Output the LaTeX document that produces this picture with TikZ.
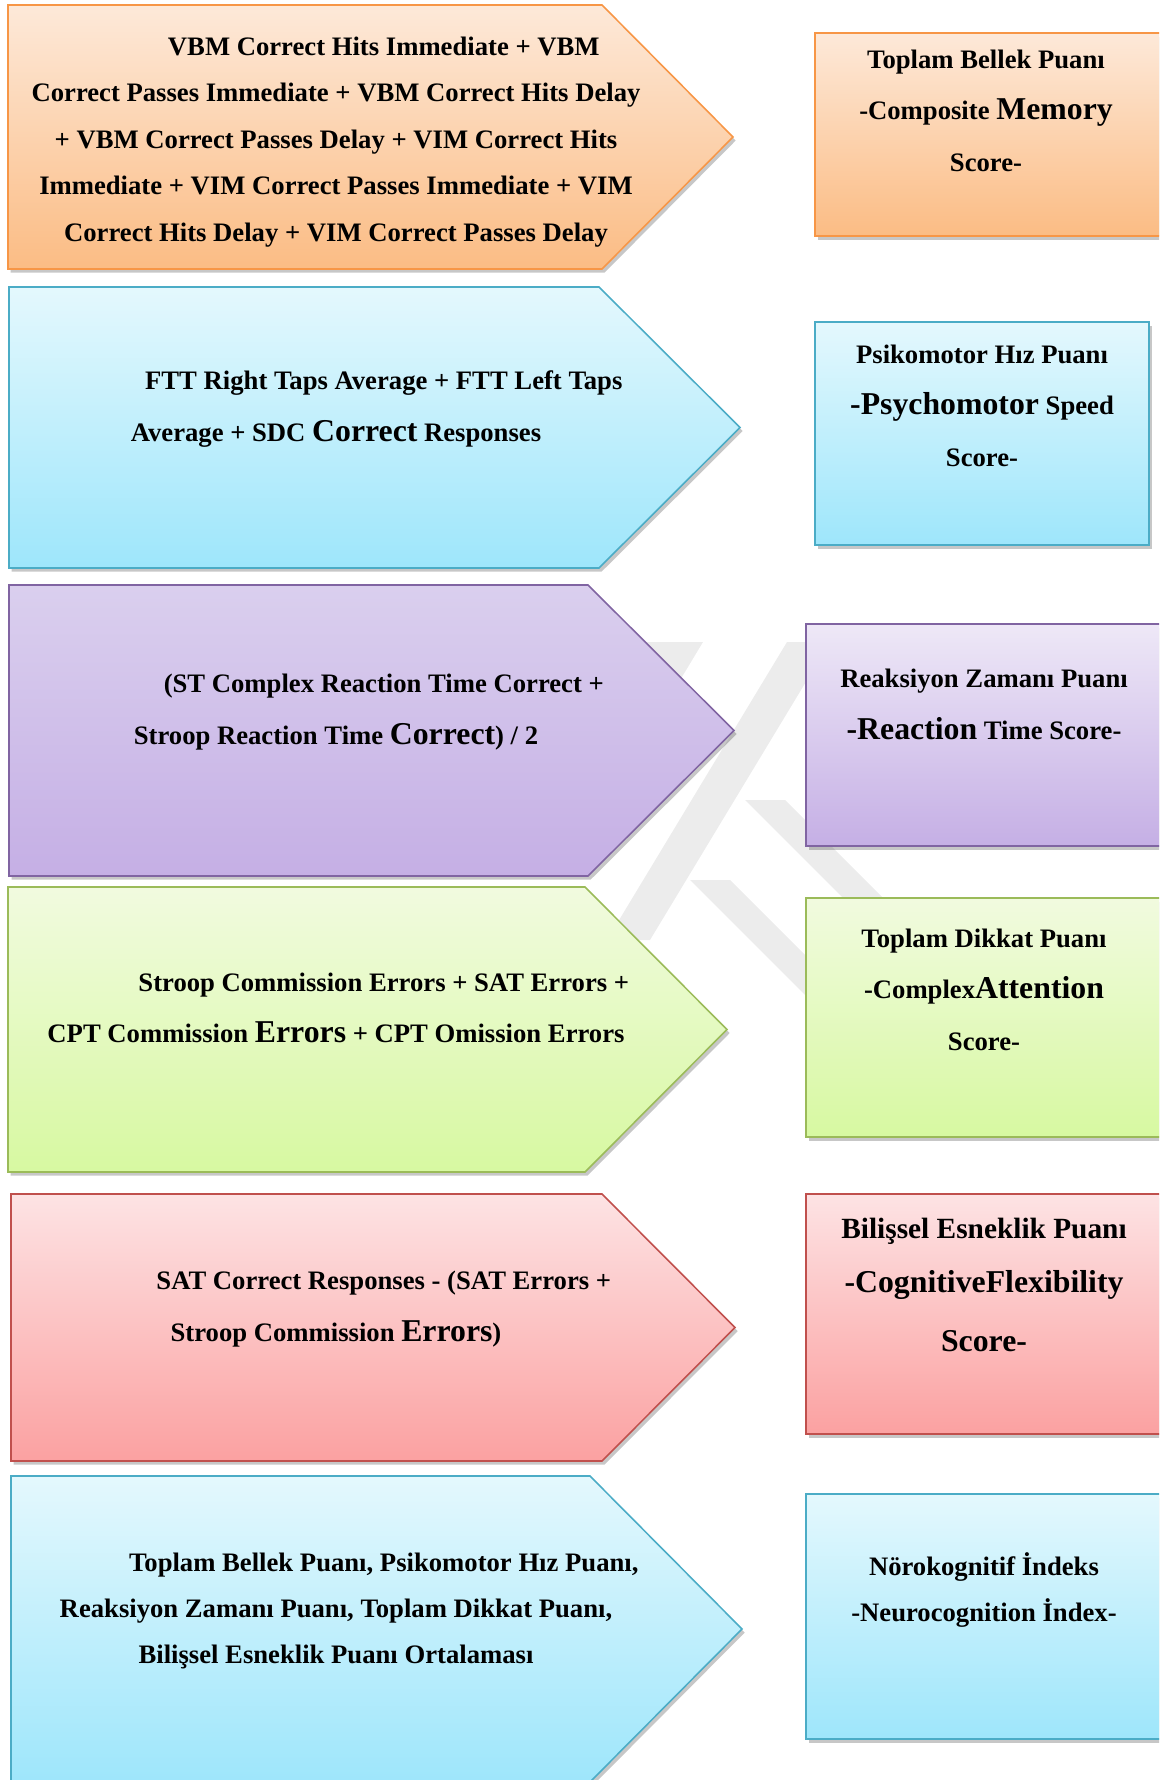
\documentclass[tikz,border=0pt]{standalone}
\usepackage{fontspec}
\setmainfont{Liberation Serif}
\usetikzlibrary{shadows}

\definecolor{orangeline}{HTML}{F79646}
\definecolor{orangetop}{HTML}{FDE9D9}
\definecolor{orangebot}{HTML}{FBBC84}
\definecolor{blueline}{HTML}{4BACC6}
\definecolor{bluetop}{HTML}{E4F8FD}
\definecolor{bluebot}{HTML}{9EE6FB}
\definecolor{purpleline}{HTML}{8064A2}
\definecolor{purpletop}{HTML}{DACFEE}
\definecolor{purplepale}{HTML}{EEE8F7}
\definecolor{purplebot}{HTML}{C5AFE5}
\definecolor{greenline}{HTML}{9BBB59}
\definecolor{greentop}{HTML}{F1FADF}
\definecolor{greenbot}{HTML}{D7F9A1}
\definecolor{redline}{HTML}{C0504D}
\definecolor{redtop}{HTML}{FDE3E4}
\definecolor{redbot}{HTML}{FBA1A1}
\definecolor{logogrey}{HTML}{ECECEC}

\newcommand{\bigword}[1]{{\fontsize{14.3}{20.9}\selectfont #1}}

\begin{document}
\begin{tikzpicture}[x=0.45pt, y=-0.45pt,
    card/.style = {line width=0.7pt, drop shadow={shadow xshift=1.2pt, shadow yshift=-1.6pt, opacity=0.22, fill=black}},
    orangecard/.style = {card, draw=orangeline, top color=orangetop, bottom color=orangebot},
    bluecard/.style = {card, draw=blueline, top color=bluetop, bottom color=bluebot},
    purplecard/.style = {card, draw=purpleline, top color=purpletop, bottom color=purplebot},
    greencard/.style = {card, draw=greenline, top color=greentop, bottom color=greenbot},
    redcard/.style = {card, draw=redline, top color=redtop, bottom color=redbot},
    formula/.style = {align=center, inner sep=0pt, font=\bfseries\fontsize{12}{20.9}\selectfont},
    score/.style = {align=center, inner sep=0pt, font=\bfseries\fontsize{12}{23.2}\selectfont}]
    \useasboundingbox (0,0) rectangle (1159,1780);
    \clip (0,0) rectangle (1159,1780);

    % faint logo in the background
    \fill[logogrey] (640,642) -- (703,642) -- (650,730) -- (600,730) -- cycle;
    \fill[logogrey] (787,642) -- (830,642) -- (650,940) -- (607,940) -- cycle;
    \fill[logogrey] (745,800) -- (785,800) -- (905,920) -- (865,920) -- cycle;
    \fill[logogrey] (690,880) -- (730,880) -- (850,1000) -- (810,1000) -- cycle;

    % arrows on the left
    \path[orangecard] (8,5) -- (602,5) -- (733,137) -- (602,269) -- (8,269) -- cycle;
    \path[bluecard] (9,287) -- (599,287) -- (740,427.5) -- (599,568) -- (9,568) -- cycle;
    \path[purplecard] (9,585) -- (588,585) -- (734,730.5) -- (588,876) -- (9,876) -- cycle;
    \path[greencard] (8,887) -- (585,887) -- (727,1029.5) -- (585,1172) -- (8,1172) -- cycle;
    \path[redcard] (11,1194) -- (602,1194) -- (735,1327.5) -- (602,1461) -- (11,1461) -- cycle;
    \path[bluecard] (11,1476) -- (590,1476) -- (742,1629) -- (590,1782) -- (11,1782) -- cycle;

    % score boxes on the right
    \path[orangecard] (815,33) rectangle (1163,236);
    \path[bluecard] (815,322) rectangle (1149,545);
    \path[purplecard, top color=purplepale] (806,624) rectangle (1163,846);
    \path[greencard] (806,898) rectangle (1163,1137);
    \path[redcard] (806,1194) rectangle (1163,1434);
    \path[bluecard] (806,1494) rectangle (1163,1739);

    \node[formula] (memf) at (336,142) {\hspace*{43pt}VBM Correct Hits Immediate + VBM\\
        Correct Passes Immediate + VBM Correct Hits Delay\\
        + VBM Correct Passes Delay + VIM Correct Hits\\
        Immediate + VIM Correct Passes Immediate + VIM\\
        Correct Hits Delay + VIM Correct Passes Delay};
    \node[formula] (psyf) at (336,409) {\hspace*{43pt}FTT Right Taps Average + FTT Left Taps\\[2.7pt]
        Average + SDC \bigword{Correct} Responses};
    \node[formula] (reaf) at (336,712) {\hspace*{43pt}(ST Complex Reaction Time Correct +\\[2.7pt]
        Stroop Reaction Time \bigword{Correct}) / 2};
    \node[formula] (attf) at (336,1008) {\hspace*{43pt}Stroop Commission Errors + SAT Errors +\\[2.2pt]
        CPT Commission \bigword{Errors} + CPT Omission Errors};
    \node[formula] (flxf) at (336,1309) {\hspace*{43pt}SAT Correct Responses - (SAT Errors +\\[2.7pt]
        Stroop Commission \bigword{Errors})};
    \node[formula] (ncif) at (336,1611) {\hspace*{43pt}Toplam Bellek Puanı, Psikomotor Hız Puanı,\\
        Reaksiyon Zamanı Puanı, Toplam Dikkat Puanı,\\
        Bilişsel Esneklik Puanı Ortalaması};

    \node[score] (mems) at (986,110.5) {Toplam Bellek Puanı\\ -Composite \bigword{Memory}\\ Score-};
    \node[score] (psys) at (982,405.5) {Psikomotor Hız Puanı\\ \bigword{-Psychomotor} Speed\\ Score-};
    \node[score] (reas) at (984,704.5) {Reaksiyon Zamanı Puanı\\ \bigword{-Reaction} Time Score-};
    \node[score] (atts) at (984,989.5) {Toplam Dikkat Puanı\\ -Complex\bigword{Attention}\\ Score-};
    \node[score] (flxs) at (984,1285) {{\fontsize{13.2}{23}\selectfont Bilişsel Esneklik Puanı}\\[1pt]
        \bigword{-CognitiveFlexibility}\\[3.4pt] \bigword{Score-}};
    \node[formula] (ncis) at (984,1590) {Nörokognitif İndeks\\ -Neurocognition İndex-};
\end{tikzpicture}
\end{document}
